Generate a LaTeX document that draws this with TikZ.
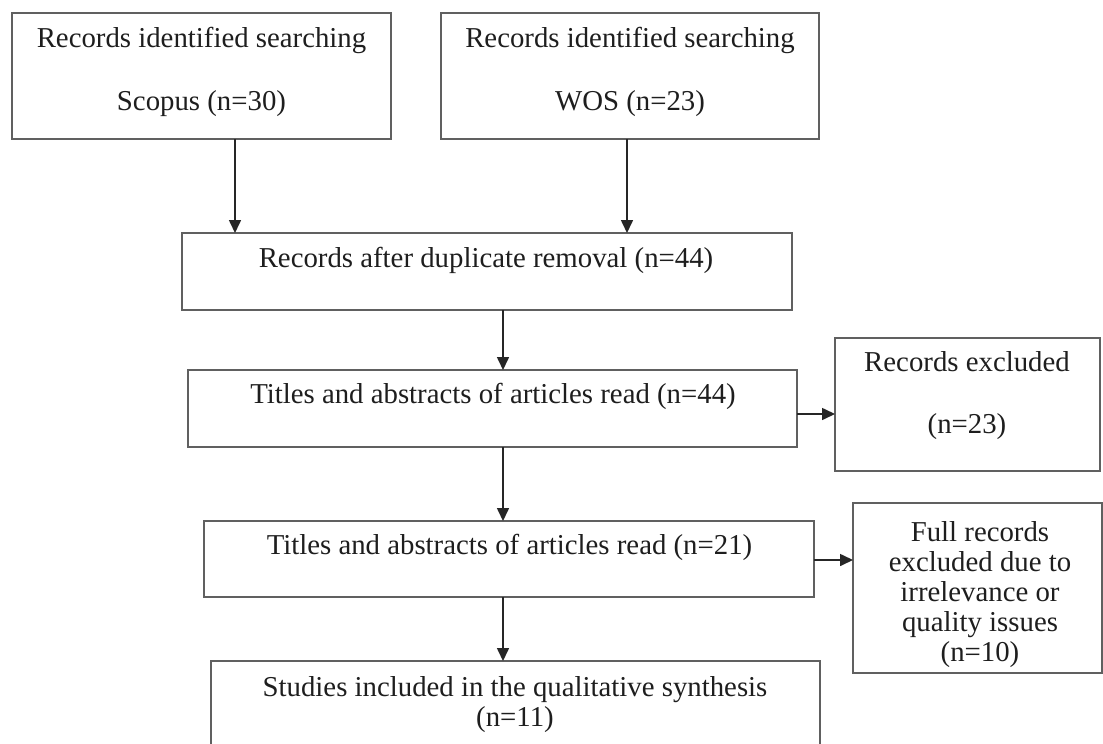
\documentclass[tikz,border=0pt]{standalone}
\usepackage{fontspec}
\setmainfont{Liberation Serif}
\usetikzlibrary{arrows.meta}
\definecolor{boxline}{HTML}{606060}
\definecolor{txt}{HTML}{1E1E1E}
\definecolor{arrowc}{HTML}{262626}
\begin{document}
\begin{tikzpicture}[x=1pt,y=-1pt,
  box/.style={draw=boxline, line width=1.6pt, rectangle, inner sep=0pt, outer sep=0pt, fill=white},
  lbl/.style={anchor=base, inner sep=0pt, text=txt, font=\fontsize{28.8}{30}\selectfont},
  arr/.style={draw=arrowc, line width=1.6pt, -{Triangle[length=13pt,width=12pt]}}]
\fill[white] (0,0) rectangle (1103,744);
\useasboundingbox (0,0) rectangle (1103,744);
\clip (0,0) rectangle (1103,744);
% boxes
\node[box, minimum width=379pt, minimum height=126pt] (b1) at (201.5,76) {};
\node[box, minimum width=378pt, minimum height=126pt] (b2) at (630,76) {};
\node[box, minimum width=610pt, minimum height=77pt] (b3) at (487,271.5) {};
\node[box, minimum width=609pt, minimum height=77pt] (b4) at (492.5,408.5) {};
\node[box, minimum width=265pt, minimum height=133pt] (b5) at (967.5,404.5) {};
\node[box, minimum width=610pt, minimum height=76pt] (b6) at (509,559) {};
\node[box, minimum width=249pt, minimum height=170pt] (b7) at (977.5,588) {};
\node[box, minimum width=609pt, minimum height=110pt] (b8) at (515.5,716) {};
% texts
\node[lbl] (t1a) at (201.5,47) {Records identified searching};
\node[lbl] (t1b) at (201.5,110) {Scopus (n=30)};
\node[lbl] (t2a) at (630,47) {Records identified searching};
\node[lbl] (t2b) at (630,110) {WOS (n=23)};
\node[lbl] (t3) at (486,267) {Records after duplicate removal (n=44)};
\node[lbl] (t4) at (493,403) {Titles and abstracts of articles read (n=44)};
\node[lbl] (t5a) at (967,371) {Records excluded};
\node[lbl] (t5b) at (967,433) {(n=23)};
\node[lbl] (t6) at (509.5,554) {Titles and abstracts of articles read (n=21)};
\node[lbl, align=center, anchor=north] (t7) at (980,521) {Full records\\excluded due to\\irrelevance or\\quality issues\\(n=10)};
\node[lbl, align=center, anchor=north] (t8) at (515,676) {Studies included in the qualitative synthesis\\(n=11)};
% redraw bottom border of b7 over its text
\draw[boxline, line width=1.6pt] (b7.south west) -- (b7.south east);
% arrow columns
\coordinate (c1) at (235,0);
\coordinate (c2) at (627,0);
\coordinate (cm) at (503,0);
\coordinate (r1) at (0,414);
\coordinate (r2) at (0,560);
% connectors
\draw[arr] (b1.south -| c1) -- (b3.north -| c1);
\draw[arr] (b2.south -| c2) -- (b3.north -| c2);
\draw[arr] (b3.south -| cm) -- (b4.north -| cm);
\draw[arr] (b4.east |- r1) -- (b5.west |- r1);
\draw[arr] (b4.south -| cm) -- (b6.north -| cm);
\draw[arr] (b6.east |- r2) -- (b7.west |- r2);
\draw[arr] (b6.south -| cm) -- (b8.north -| cm);
\end{tikzpicture}
\end{document}
